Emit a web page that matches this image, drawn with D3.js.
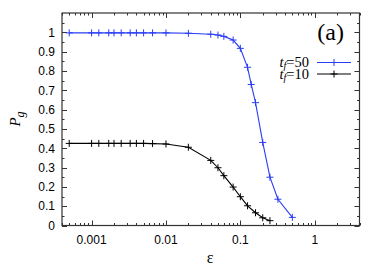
<!DOCTYPE html>
<html><head><meta charset="utf-8">
<script src="https://cdn.jsdelivr.net/npm/d3@7"></script>
<style>body{margin:0;background:#fff}svg{display:block}</style>
</head><body>
<script>
const epsBlue = [0.0005,0.001,0.00125,0.0017,0.002,0.0025,0.0033,0.004,0.005,0.0066,0.01,0.02,0.04,0.05,0.06,0.08,0.1,0.125,0.14,0.16,0.2,0.25,0.32,0.5];
const pgBlue  = [0.997,0.997,0.997,0.997,0.997,0.997,0.997,0.997,0.997,0.997,0.997,0.995,0.99,0.986,0.979,0.96,0.917,0.819,0.73,0.636,0.43,0.25,0.136,0.042];
const epsBlack = [0.0005,0.001,0.00125,0.0017,0.002,0.0025,0.0033,0.004,0.005,0.0066,0.01,0.02,0.04,0.05,0.06,0.08,0.1,0.125,0.16,0.2,0.25];
const pgBlack  = [0.425,0.425,0.425,0.425,0.425,0.425,0.425,0.425,0.425,0.424,0.422,0.405,0.337,0.299,0.258,0.199,0.149,0.102,0.066,0.040,0.025];
const xTicks = [0.001,0.01,0.1,1];
const xTickLabels = ["0.001","0.01","0.1","1"];
const yTicks = [0,0.1,0.2,0.3,0.4,0.5,0.6,0.7,0.8,0.9,1];
const yTickLabels = ["0","0.1","0.2","0.3","0.4","0.5","0.6","0.7","0.8","0.9","1"];
const seriesNames = ["50","10"];

const W=382,H=267;
const L=62,R=359.5,T=13,B=225.5;
const svg=d3.select("body").append("svg").attr("width",W).attr("height",H);
const x=d3.scaleLog().domain([0.0004,4]).range([L,R]);
const y=d3.scaleLinear().domain([0,1.1]).range([B,T]);
const axisCol="#333";

const xMinor=[];
for(let e=-4;e<=0;e++){for(let k=2;k<=9;k++){const v=k*Math.pow(10,e);if(v>=0.0004&&v<=4)xMinor.push(v);}}
const yMinor=d3.range(0.05,1.1,0.1);
const tg=svg.append("g").attr("stroke",axisCol).attr("stroke-width",1);
xTicks.forEach(v=>{const px=Math.round(x(v))+0.5;
  tg.append("line").attr("x1",px).attr("x2",px).attr("y1",B).attr("y2",B-5);
  tg.append("line").attr("x1",px).attr("x2",px).attr("y1",T).attr("y2",T+5);});
xMinor.forEach(v=>{const px=Math.round(x(v))+0.5;
  tg.append("line").attr("x1",px).attr("x2",px).attr("y1",B).attr("y2",B-2.5);
  tg.append("line").attr("x1",px).attr("x2",px).attr("y1",T).attr("y2",T+2.5);});
yTicks.forEach(v=>{const py=Math.round(y(v))+0.5;
  tg.append("line").attr("x1",L).attr("x2",L+5).attr("y1",py).attr("y2",py);
  tg.append("line").attr("x1",R).attr("x2",R-5).attr("y1",py).attr("y2",py);});
yMinor.forEach(v=>{const py=Math.round(y(v))+0.5;
  tg.append("line").attr("x1",L).attr("x2",L+2.5).attr("y1",py).attr("y2",py);
  tg.append("line").attr("x1",R).attr("x2",R-2.5).attr("y1",py).attr("y2",py);});

svg.append("rect").attr("x",L).attr("y",T).attr("width",R-L).attr("height",B-T)
  .attr("fill","none").attr("stroke",axisCol).attr("stroke-width",1.2);

const lf="'Liberation Sans',Arial,sans-serif";
xTicks.forEach((v,i)=>svg.append("text").attr("x",x(v)).attr("y",243.5).attr("text-anchor","middle")
  .attr("font-family",lf).attr("font-size",12).attr("fill","#000").text(xTickLabels[i]));
yTicks.forEach((v,i)=>svg.append("text").attr("x",55).attr("y",y(v)+4.3).attr("text-anchor","end")
  .attr("font-family",lf).attr("font-size",12).attr("fill","#000").text(yTickLabels[i]));

const sf="'Liberation Serif','Times New Roman',serif";
svg.append("text").attr("x",210).attr("y",263).attr("text-anchor","middle").attr("font-family",sf)
  .attr("font-size",16).text("ε");
const yl=svg.append("text").attr("transform","translate(20,119) rotate(-90)").attr("text-anchor","middle")
  .attr("font-family",sf).attr("font-size",15);
yl.append("tspan").attr("font-style","italic").text("P");
yl.append("tspan").attr("font-style","italic").attr("font-size",12).attr("dy",4).text("g");

svg.append("text").attr("x",344).attr("y",40).attr("text-anchor","end").attr("font-family",sf)
  .attr("font-size",24).text("(a)");

const series=[{xs:epsBlue,ys:pgBlue,c:"#2a3cf5",name:seriesNames[0]},{xs:epsBlack,ys:pgBlack,c:"#000",name:seriesNames[1]}];
const line=d3.line().x(d=>x(d[0])).y(d=>y(d[1]));
function plus(g,cx,cy,c){
  g.append("path").attr("d",`M${cx-3.5},${cy}H${cx+3.5}M${cx},${cy-3.5}V${cy+3.5}`).attr("stroke",c).attr("stroke-width",1).attr("fill","none");
}
const legText=svg.append("text").attr("font-family",sf).attr("font-size",14.5).attr("text-anchor","end");
series.forEach((s,si)=>{
  const pts=s.xs.map((v,i)=>[v,s.ys[i]]);
  const g=svg.append("g");
  g.append("path").attr("d",line(pts)).attr("fill","none").attr("stroke",s.c).attr("stroke-width",1.1);
  pts.forEach(p=>plus(g,x(p[0]),y(p[1]),s.c));
  const ly=62.5+si*11.5;
  g.append("line").attr("x1",317).attr("x2",351).attr("y1",ly).attr("y2",ly).attr("stroke",s.c).attr("stroke-width",1.1);
  plus(g,334,ly,s.c);
  const line1=legText.append("tspan").attr("x",309).attr("y",ly+4.5);
  line1.append("tspan").attr("font-style","italic").text("t");
  line1.append("tspan").attr("font-style","italic").attr("font-size",10).attr("dy",2).text("f");
  line1.append("tspan").attr("dy",-2).text("="+s.name);
});
</script>
</body></html>
